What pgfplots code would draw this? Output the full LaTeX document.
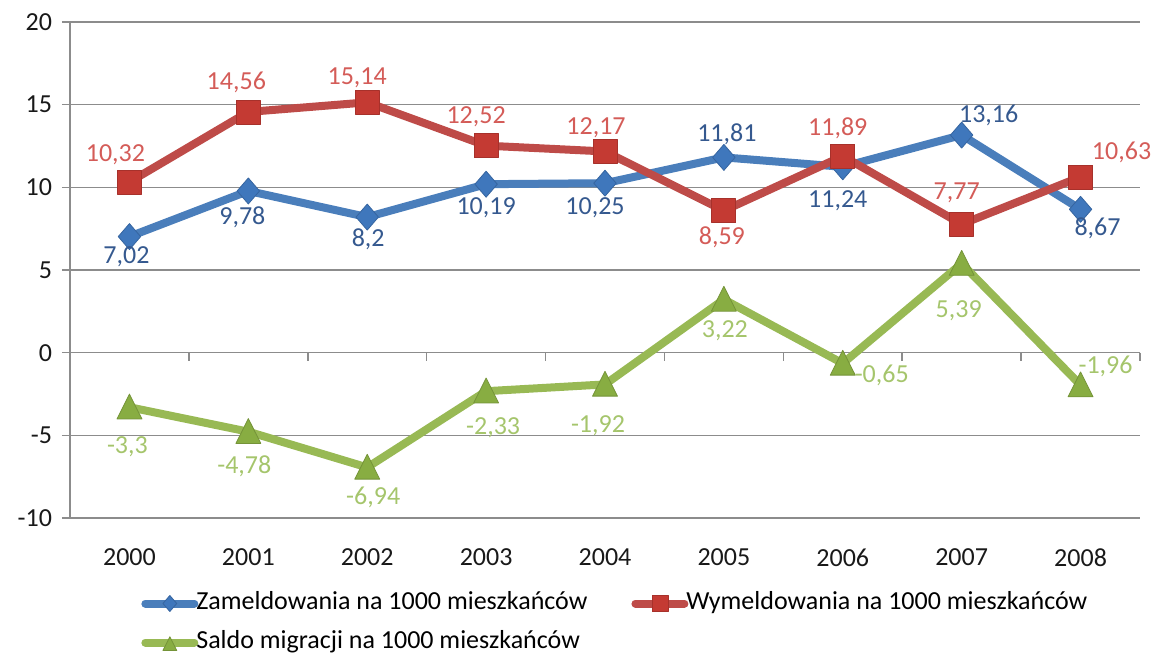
\documentclass[border=0pt]{standalone}
\usepackage{pgfplots}
\pgfplotsset{compat=1.18}
\usepackage{pgfplotstable}
\usepackage{fontspec}
\setmainfont{Carlito}
\definecolor{bline}{HTML}{4A7EBB}
\definecolor{bmark}{HTML}{3F77BC}
\definecolor{blbl}{HTML}{35598F}
\definecolor{rline}{HTML}{BE4B48}
\definecolor{rmark}{HTML}{C43A33}
\definecolor{rlbl}{HTML}{D45C58}
\definecolor{gline}{HTML}{98B954}
\definecolor{gmark}{HTML}{88AD42}
\definecolor{glbl}{HTML}{A5C56C}
\definecolor{gridc}{HTML}{8C8C8C}
\newcommand\f{\fontsize{13pt}{15.6pt}\selectfont}

\pgfplotstableread{
x y dx dy
0 7.02 -1.5 -10
1 9.78 -3 -13
2 8.2 0.5 -11.25
3 10.19 0 -12
4 10.25 -5 -12.5
5 11.81 1.5 11.5
6 11.24 -2.5 -17
7 13.16 13.5 10
8 8.67 8.5 -9.5
}\zam

\pgfplotstableread{
x y dx dy
0 10.32 -7 13.5
1 14.56 -6 15
2 15.14 -5 12.5
3 12.52 -5 14.5
4 12.17 -4.5 12
5 8.59 -1 -13.5
6 11.89 -2.5 14
7 7.77 -2.5 15.5
8 10.63 20.5 12.5
}\wym

\pgfplotstableread{
x y dx dy
0 -3.3 -1 -18
1 -4.78 -2 -15.5
2 -6.94 3 -13.5
3 -2.33 3.5 -16.5
4 -1.92 -3.5 -19
5 3.22 0.5 -14
6 -0.65 19.5 -4.5
7 5.39 -1.5 -22
8 -1.96 12.5 11
}\sal

\begin{document}
\begin{tikzpicture}
\useasboundingbox (-35pt,-69.5pt) rectangle (542pt,259pt);
\begin{axis}[
  at={(0pt,0pt)}, anchor=south west,
  scale only axis, width=535pt, height=248pt,
  xmin=-0.5, xmax=8.5, ymin=-10, ymax=20,
  ytick={-10,-5,...,20},
  xtick={0,1,2,3,4,5,6,7,8},
  xticklabels={2000,2001,2002,2003,2004,2005,2006,2007,2008},
  axis lines*=left,
  axis line style={draw=gridc, line width=0.8pt},
  ymajorgrids, grid style={draw=gridc, line width=0.8pt},
  tick align=outside, major tick length=4pt,
  ytick style={draw=gridc, line width=0.8pt},
  xtick style={draw=none},
  ticklabel style={font=\f, text=black!90},
  xticklabel style={yshift=-8pt},
  yticklabel style={xshift=-1.5pt},
  /pgf/number format/use comma,
  /pgf/number format/assume math mode=true,
  clip=false,
  legend columns=2,
  legend cell align=left,
  legend style={draw=none, fill=none, font=\f,
    at={(axis description cs:0.0663,-0.2117)}, anchor=west,
    inner sep=0pt, row sep=5.5pt,
    nodes={inner sep=1pt, text height=9pt, text depth=3pt},
    /tikz/every odd column/.append style={column sep=-2pt},
    /tikz/every even column/.append style={column sep=21pt}},
  legend image code/.code={\draw[mark repeat=2,mark phase=2,#1,mark size=4pt] plot coordinates {(0pt,0pt) (12.25pt,0pt) (24.5pt,0pt)};},
  every axis plot/.append style={line width=4pt, line cap=round, line join=round},
]
\pgfplotsinvokeforeach{0.5,1.5,2.5,3.5,4.5,5.5,6.5,7.5,8.5}{
  \draw[gridc, line width=0.8pt] (axis cs:#1,0) -- ([yshift=-4pt]axis cs:#1,0);
}
\draw[gridc, line width=0.8pt] (axis cs:-0.5,0) -- (axis cs:8.5,0);

\addplot[bline, mark=diamond*, mark size=6.5pt,
  mark options={solid, fill=bmark, draw=bmark!85!black, line width=0.4pt, xscale=1.15},
  visualization depends on={\thisrow{dx}\as\dx},
  visualization depends on={\thisrow{dy}\as\dy},
  nodes near coords,
  every node near coord/.append style={font=\f, text=blbl, anchor=center, xshift=\dx pt, yshift=\dy pt}]
  table[x=x,y=y] {\zam};
\addlegendentry{Zameldowania na 1000 mieszkańców}

\addplot[rline, mark=square*, mark size=6pt,
  mark options={solid, fill=rmark, draw=rmark!85!black, line width=0.4pt},
  visualization depends on={\thisrow{dx}\as\dx},
  visualization depends on={\thisrow{dy}\as\dy},
  nodes near coords,
  every node near coord/.append style={font=\f, text=rlbl, anchor=center, xshift=\dx pt, yshift=\dy pt}]
  table[x=x,y=y] {\wym};
\addlegendentry{Wymeldowania na 1000 mieszkańców}

\addplot[gline, mark=triangle*, mark size=7.2pt,
  mark options={solid, fill=gmark, draw=gmark!85!black, line width=0.4pt, yscale=1.15, yshift=-1.5pt},
  visualization depends on={\thisrow{dx}\as\dx},
  visualization depends on={\thisrow{dy}\as\dy},
  nodes near coords,
  every node near coord/.append style={font=\f, text=glbl, anchor=center, xshift=\dx pt, yshift=\dy pt}]
  table[x=x,y=y] {\sal};
\addlegendentry{Saldo migracji na 1000 mieszkańców}
\end{axis}
\end{tikzpicture}
\end{document}
